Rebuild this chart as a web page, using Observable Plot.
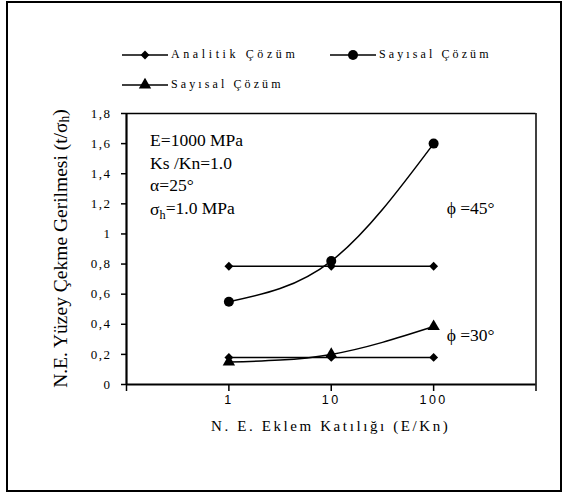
<!DOCTYPE html>
<html><head><meta charset="utf-8">
<script src="https://cdn.jsdelivr.net/npm/d3@7"></script>
<script src="https://cdn.jsdelivr.net/npm/@observablehq/plot@0.6"></script>
<style>
body{margin:0;background:#fff;}
#wrap{position:relative;width:563px;height:493px;overflow:hidden;background:#fff;}
#chart{position:absolute;left:0;top:0;}
#frame{position:absolute;left:6px;top:1px;width:556px;height:491px;border:2.5px solid #000;box-sizing:border-box;pointer-events:none;}
#legend{position:absolute;left:0;top:0;}
</style>
</head><body>
<div id="wrap"><div id="chart"></div><svg id="legend" width="563" height="105"></svg><div id="frame"></div></div>
<script>
// ---- data ----
const stiffness = [1, 10, 100];                 // E/Kn
const analitik45 = [0.785, 0.785, 0.785];       // φ=45°
const analitik30 = [0.18, 0.18, 0.18];          // φ=30°
const sayisal45  = [0.55, 0.82, 1.6];           // φ=45° circles
const sayisal30  = [0.15, 0.20, 0.385];         // φ=30° triangles
const yTickValues = [0, 0.2, 0.4, 0.6, 0.8, 1, 1.2, 1.4, 1.6, 1.8];
const xTickValues = [0.1, 1, 10, 100, 1000];
const xTickLabels = ["", "1", "10", "100", ""];
const legendLabels = ["Analitik Çözüm", "Sayısal Çözüm", "Sayısal Çözüm"];
const legendSymbols = ["diamond2", "circle", "triangle"];
const notes = ["E=1000 MPa", "Ks /Kn=1.0", "α=25°", "σh=1.0 MPa"];
const noteY = [1.62, 1.47, 1.32, 1.16];
const noteX = 0.17;
const phiLabels = ["ϕ =45°", "ϕ =30°"];
const phiY = [1.17, 0.325];
const phiX = 134;
const yTitle = "N.E. Yüzey Çekme Gerilmesi (t/σh)";
const xTitle = "N. E. Eklem Katılığı (E/Kn)";

const rows = (ys) => stiffness.map((x, i) => ({x, y: ys[i]}));
const tickLabelMap = new Map(xTickValues.map((v, i) => [v, xTickLabels[i]]));
const noteRows = notes.map((t, i) => ({t, x: noteX, y: noteY[i]}));
const phiRows = phiLabels.map((t, i) => ({t, x: phiX, y: phiY[i]}));

const serif = "'Liberation Serif', 'Times New Roman', serif";
const sans = "'Liberation Sans', Arial, sans-serif";
const plot = Plot.plot({
  width: 563, height: 493,
  marginLeft: 126, marginRight: 27.5, marginTop: 113, marginBottom: 109,
  x: {type: "log", domain: [0.1, 1000]},
  y: {domain: [0, 1.8]},
  style: {background: "transparent", overflow: "visible", fontFamily: serif, color: "#000"},
  marks: [
    Plot.ruleY([1.8], {strokeWidth: 1.5}),
    Plot.ruleX([1000], {strokeWidth: 1.5}),
    Plot.axisY({ticks: yTickValues, tickSize: 5, tickPadding: 10, strokeWidth: 1.5,
      tickFormat: d => String(d).replace(".", ","), fontSize: 13, fontFamily: serif, label: null}),
    Plot.axisX({ticks: xTickValues, tickSize: 7, tickPadding: 4, strokeWidth: 1.5,
      tickFormat: d => tickLabelMap.get(d), fontSize: 12.5, fontFamily: sans, label: null}),
    Plot.ruleY([0], {strokeWidth: 2.2}),
    Plot.ruleX([0.1], {strokeWidth: 2.2}),
    Plot.line(rows(analitik45), {x: "x", y: "y", strokeWidth: 1.5}),
    Plot.line(rows(analitik30), {x: "x", y: "y", strokeWidth: 1.5}),
    Plot.line(rows(sayisal45), {x: "x", y: "y", strokeWidth: 1.5, curve: "natural"}),
    Plot.line(rows(sayisal30), {x: "x", y: "y", strokeWidth: 1.5, curve: "natural"}),
    Plot.dot(rows(analitik45), {x: "x", y: "y", symbol: "diamond2", r: 4, fill: "#000"}),
    Plot.dot(rows(analitik30), {x: "x", y: "y", symbol: "diamond2", r: 4, fill: "#000"}),
    Plot.dot(rows(sayisal45), {x: "x", y: "y", symbol: "circle", r: 5, fill: "#000"}),
    Plot.dot(rows(sayisal30), {x: "x", y: "y", symbol: "triangle", r: 4.6, fill: "#000"}),
    Plot.text(noteRows, {x: "x", y: "y", text: "t", textAnchor: "start", fontSize: 17.5, fontFamily: serif, fill: "#000"}),
    Plot.text(phiRows, {x: "x", y: "y", text: "t", textAnchor: "start", fontSize: 17.5, fontFamily: serif, fill: "#000"})
  ]
});
document.getElementById("chart").appendChild(plot);

const svg = d3.select(plot);
svg.selectAll('g[aria-label="y-axis tick label"] text').style("letter-spacing", "1.5px").style("font-family", serif);
svg.selectAll('g[aria-label="x-axis tick label"] text').style("letter-spacing", "2.5px").style("font-family", sans);
svg.selectAll('g[aria-label="text"] text').style("font-family", serif);

// subscripts
function subscriptify(node, base, sub) {
  const full = node.textContent;
  const idx = full.indexOf(base + sub);
  if (idx < 0) return;
  const sel = d3.select(node);
  sel.text(null);
  sel.append("tspan").text(full.slice(0, idx + base.length));
  sel.append("tspan").attr("font-size", "0.7em").attr("dy", "0.25em").text(sub);
  sel.append("tspan").attr("dy", "-0.25em").text(full.slice(idx + base.length + sub.length));
}
svg.selectAll("text").each(function() { if (this.textContent === notes[3]) subscriptify(this, "σ", "h"); });

// axis titles
const yt = svg.append("text")
  .attr("transform", `translate(63,${(113 + 384) / 2}) rotate(-90)`)
  .attr("text-anchor", "middle").attr("dominant-baseline", "middle")
  .attr("font-size", 19.5).attr("fill", "#000").style("font-family", serif)
  .text(yTitle);
subscriptify(yt.node(), "σ", "h");
svg.append("text")
  .attr("x", (126 + 535.5) / 2).attr("y", 428)
  .attr("text-anchor", "middle").attr("dominant-baseline", "middle")
  .attr("font-size", 15).attr("fill", "#000")
  .style("font-family", serif).style("letter-spacing", "2.6px")
  .text(xTitle);

// legend
const lg = d3.select("#legend");
const legendPos = [[122, 55], [330, 55], [122, 85]];
legendLabels.forEach((lab, i) => {
  const [x0, y0] = legendPos[i];
  lg.append("line").attr("x1", x0).attr("x2", x0 + 46).attr("y1", y0).attr("y2", y0)
    .attr("stroke", "#000").attr("stroke-width", 1.5);
  const sym = {diamond2: d3.symbolDiamond2, circle: d3.symbolCircle, triangle: d3.symbolTriangle}[legendSymbols[i]];
  const r = [4, 5, 4.6][i];
  lg.append("path").attr("d", d3.symbol(sym, Math.PI * r * r)())
    .attr("transform", `translate(${x0 + 23},${y0})`).attr("fill", "#000");
  lg.append("text").attr("x", x0 + 49).attr("y", y0).attr("dominant-baseline", "middle")
    .attr("font-size", 12).style("font-family", serif).style("letter-spacing", i === 0 ? "3.6px" : "3.1px")
    .attr("fill", "#000").text(lab);
});
</script>
</body></html>
